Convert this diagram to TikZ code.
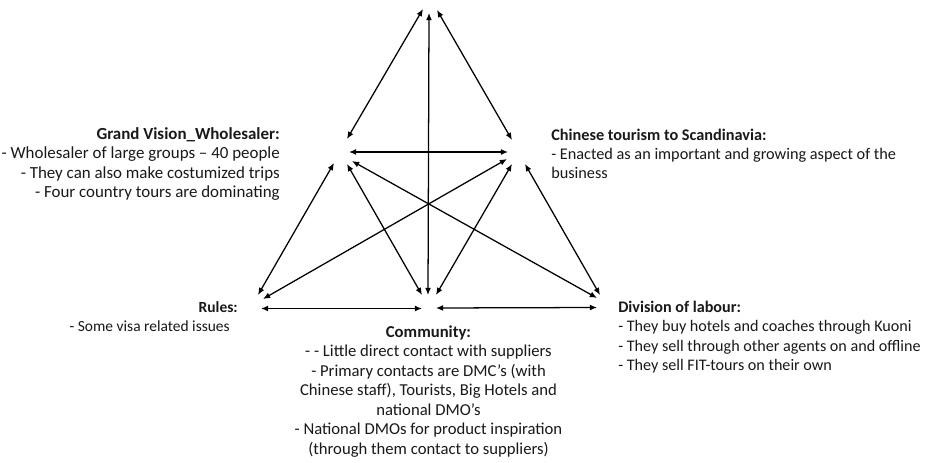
\documentclass[tikz,border=0pt]{standalone}
\usepackage{fontspec}
\setmainfont{Carlito}
\usetikzlibrary{arrows.meta}
\begin{document}
\begin{tikzpicture}[x=0.75pt,y=-0.75pt,
  link/.style={{Latex[length=5.4pt,width=4.5pt]}-{Latex[length=5.4pt,width=4.5pt]}, line width=0.95pt, black},
  label/.style={inner sep=0pt, text=black!90},
  sz/.style={font=\fontsize{#1}{14.6pt}\selectfont}]
\useasboundingbox (0,0) rectangle (931,463);
\fill[white] (0,0) rectangle (931,463);

% arrow end points around the six corners of the activity system
\coordinate (top-l) at (423,9);
\coordinate (top-c) at (429,13);
\coordinate (top-r) at (437,10);

\coordinate (gv-t)  at (347,139);
\coordinate (gv-h)  at (349,152);
\coordinate (gv-rl) at (334,163);
\coordinate (gv-cm) at (347,164);
\coordinate (gv-dv) at (352,161);

\coordinate (ch-t)  at (512,140);
\coordinate (ch-h)  at (508,152);
\coordinate (ch-rl) at (507,159);
\coordinate (ch-cm) at (512,164);
\coordinate (ch-dv) at (525,164);

\coordinate (rl-gv) at (258,295);
\coordinate (rl-ch) at (263,299);
\coordinate (rl-h)  at (261,308.5);

\coordinate (cm-gv) at (422,295);
\coordinate (cm-t)  at (428,295);
\coordinate (cm-ch) at (436,295);
\coordinate (cm-hl) at (422,308.5);
\coordinate (cm-hr) at (436,308);

\coordinate (dv-ch) at (600,295);
\coordinate (dv-gv) at (597,298);
\coordinate (dv-h)  at (597,307.5);

% connectors
\draw[link] (top-l) -- (gv-t);
\draw[link] (top-c) -- (cm-t);
\draw[link] (top-r) -- (ch-t);
\draw[link] (gv-h) -- (ch-h);
\draw[link] (rl-gv) -- (gv-rl);
\draw[link] (rl-ch) -- (ch-rl);
\draw[link] (cm-gv) -- (gv-cm);
\draw[link] (cm-ch) -- (ch-cm);
\draw[link] (dv-gv) -- (gv-dv);
\draw[link] (dv-ch) -- (ch-dv);
\draw[link] (rl-h) -- (cm-hl);
\draw[link] (cm-hr) -- (dv-h);

% texts (the base anchor sits on the last line of each block)
\node[label, sz=12.7pt, anchor=base east, align=right] (gvtext) at (280,197.5)
  {\textbf{Grand Vision\_Wholesaler:}\\
   - Wholesaler of large groups – 40 people\\
   - They can also make costumized trips\\
   - Four country tours are dominating};

\node[label, sz=12.2pt, anchor=base west, align=left] (chtext) at (551,179)
  {\textbf{Chinese tourism to Scandinavia:}\\
   - Enacted as an important and growing aspect of the\\
   business};

\node[label, sz=11.6pt, anchor=base east, align=right] (rltext) at (238,331.5)
  {\textbf{Rules:}\\
   - Some visa related issues\hspace*{6pt}};

\node[label, sz=12.5pt, anchor=base, align=center] (cmtext) at (428.5,454)
  {\textbf{Community:}\\
   - - Little direct contact with suppliers\\
   - Primary contacts are DMC’s (with\\
   Chinese staff), Tourists, Big Hotels and\\
   national DMO’s\\
   - National DMOs for product inspiration\\
   (through them contact to suppliers)};

\node[label, sz=12.1pt, anchor=base west, align=left] (dvtext) at (618,370.5)
  {\textbf{Division of labour:}\\
   - They buy hotels and coaches through Kuoni\\
   - They sell through other agents on and offline\\
   - They sell FIT-tours on their own};
\end{tikzpicture}
\end{document}
